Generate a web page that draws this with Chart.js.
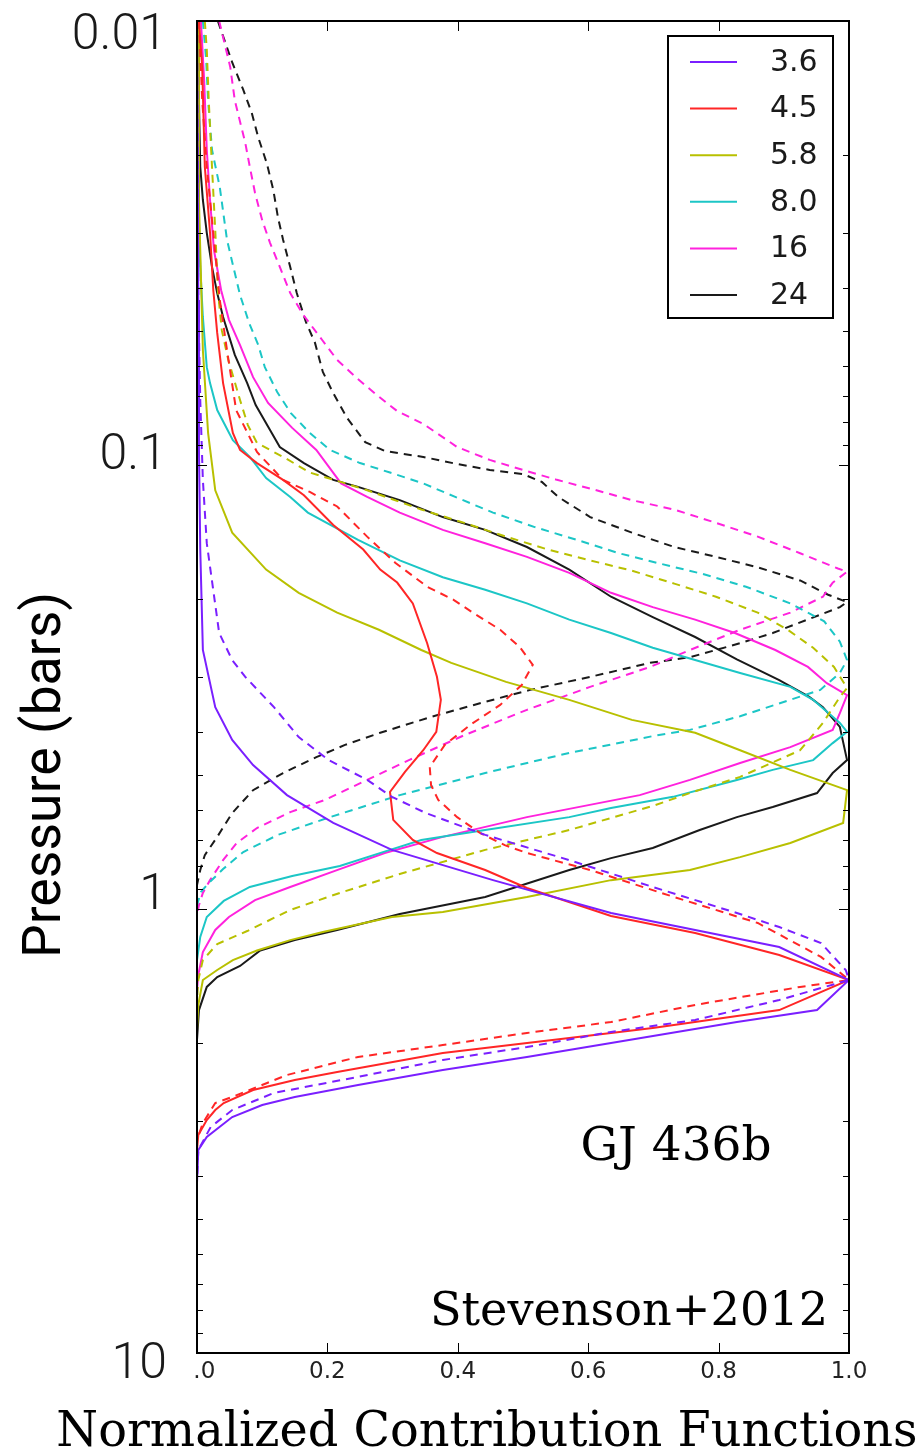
<!DOCTYPE html>
<html>
<head>
<meta charset="utf-8">
<script src="https://cdn.jsdelivr.net/npm/chart.js@4.4.1/dist/chart.umd.min.js"></script>
<style>
  html, body { margin: 0; padding: 0; background: #fff; }
</style>
</head>
<body>
<canvas id="cfChart" width="924" height="1455"></canvas>
<script>
// Contribution functions, pairs are [pressure (bar), normalized contribution]
const cf36 = [[0.01,0],[0.0425,0.002],[0.0925,0.003],[0.155,0.005],[0.261,0.009],[0.351,0.028],[0.416,0.054],[0.474,0.086],[0.554,0.138],[0.640,0.209],[0.736,0.299],[0.861,0.454],[1.021,0.635],[1.218,0.893],[1.445,1.0],[1.689,0.951],[1.797,0.828],[2.003,0.635],[2.154,0.506],[2.305,0.377],[2.491,0.247],[2.651,0.150],[2.763,0.100],[2.941,0.054],[3.262,0.015],[3.49,0.002],[4.14,0]];
const cf36d = [[0.01,0],[0.0425,0.002],[0.0714,0.005],[0.108,0.009],[0.150,0.015],[0.239,0.034],[0.275,0.054],[0.300,0.074],[0.351,0.118],[0.410,0.156],[0.462,0.202],[0.512,0.261],[0.559,0.299],[0.608,0.351],[0.681,0.442],[0.776,0.571],[0.892,0.699],[1.021,0.828],[1.098,0.893],[1.193,0.957],[1.372,0.995],[1.445,1.0],[1.603,0.893],[1.778,0.764],[1.892,0.635],[2.046,0.506],[2.188,0.377],[2.389,0.247],[2.596,0.118],[2.836,0.054],[3.097,0.021],[3.49,0.002],[4.08,0]];

const cf45 = [[0.01,0.003],[0.0127,0.008],[0.0213,0.012],[0.0300,0.020],[0.0404,0.025],[0.0504,0.031],[0.0654,0.040],[0.0847,0.055],[0.0925,0.066],[0.099,0.092],[0.108,0.132],[0.117,0.164],[0.1365,0.209],[0.155,0.255],[0.172,0.281],[0.184,0.307],[0.205,0.331],[0.252,0.353],[0.300,0.368],[0.338,0.374],[0.399,0.367],[0.439,0.347],[0.491,0.319],[0.545,0.296],[0.630,0.301],[0.699,0.331],[0.748,0.368],[0.817,0.442],[0.897,0.506],[1.037,0.635],[1.133,0.764],[1.269,0.893],[1.445,1.0],[1.689,0.893],[1.853,0.699],[1.952,0.571],[2.110,0.377],[2.328,0.215],[2.427,0.150],[2.557,0.086],[2.735,0.041],[2.836,0.028],[2.987,0.015],[3.228,0.002],[3.49,0]];
const cf45d = [[0.01,0.003],[0.0151,0.008],[0.0213,0.015],[0.0300,0.025],[0.0425,0.035],[0.0551,0.046],[0.0752,0.060],[0.0935,0.092],[0.108,0.132],[0.115,0.173],[0.124,0.215],[0.145,0.261],[0.166,0.304],[0.188,0.353],[0.201,0.393],[0.215,0.423],[0.235,0.465],[0.257,0.495],[0.282,0.515],[0.313,0.498],[0.347,0.465],[0.385,0.419],[0.427,0.380],[0.479,0.357],[0.526,0.359],[0.568,0.370],[0.621,0.399],[0.674,0.434],[0.718,0.472],[0.748,0.506],[0.817,0.603],[0.940,0.732],[1.075,0.860],[1.282,0.957],[1.445,1.0],[1.498,0.925],[1.645,0.764],[1.797,0.635],[1.902,0.506],[2.025,0.377],[2.154,0.247],[2.365,0.138],[2.651,0.054],[2.735,0.028],[3.034,0.009],[3.31,0]];

const cf58 = [[0.01,0.002],[0.0253,0.003],[0.0328,0.005],[0.0551,0.009],[0.0847,0.017],[0.114,0.028],[0.142,0.054],[0.172,0.106],[0.194,0.156],[0.215,0.215],[0.235,0.279],[0.261,0.344],[0.279,0.390],[0.308,0.474],[0.338,0.571],[0.375,0.667],[0.401,0.764],[0.439,0.833],[0.486,0.910],[0.540,0.997],[0.640,0.991],[0.710,0.910],[0.764,0.833],[0.817,0.756],[0.861,0.635],[0.940,0.506],[1.016,0.377],[1.042,0.299],[1.127,0.193],[1.175,0.143],[1.24,0.092],[1.303,0.055],[1.372,0.031],[1.445,0.009],[1.645,0.002],[1.873,0]];
const cf58d = [[0.01,0.012],[0.0116,0.015],[0.0151,0.018],[0.0213,0.023],[0.0296,0.028],[0.0404,0.032],[0.0497,0.038],[0.058,0.048],[0.0714,0.066],[0.0813,0.078],[0.0892,0.092],[0.0964,0.135],[0.104,0.173],[0.109,0.219],[0.114,0.261],[0.126,0.344],[0.135,0.410],[0.145,0.474],[0.155,0.538],[0.164,0.603],[0.173,0.667],[0.185,0.732],[0.198,0.796],[0.215,0.860],[0.235,0.906],[0.258,0.945],[0.285,0.977],[0.318,0.997],[0.333,0.986],[0.381,0.960],[0.439,0.925],[0.504,0.833],[0.548,0.756],[0.586,0.699],[0.664,0.571],[0.736,0.442],[0.834,0.311],[0.920,0.219],[1.005,0.143],[1.121,0.077],[1.199,0.031],[1.303,0.009],[1.445,0.002],[1.603,0]];

const cf80 = [[0.01,0],[0.0195,0.002],[0.0281,0.003],[0.0358,0.005],[0.0464,0.009],[0.0602,0.015],[0.0654,0.020],[0.0752,0.031],[0.0879,0.055],[0.0959,0.081],[0.107,0.106],[0.118,0.143],[0.128,0.170],[0.1475,0.247],[0.164,0.311],[0.179,0.377],[0.191,0.442],[0.205,0.506],[0.223,0.571],[0.239,0.635],[0.258,0.699],[0.275,0.764],[0.294,0.833],[0.316,0.910],[0.338,0.945],[0.381,0.986],[0.399,0.997],[0.423,0.975],[0.462,0.945],[0.486,0.883],[0.512,0.828],[0.559,0.730],[0.592,0.635],[0.621,0.571],[0.664,0.442],[0.699,0.344],[0.736,0.296],[0.800,0.219],[0.843,0.146],[0.892,0.081],[0.959,0.041],[1.042,0.015],[1.156,0.005],[1.303,0]];
const cf80d = [[0.01,0.009],[0.0122,0.014],[0.0151,0.017],[0.0195,0.023],[0.0237,0.035],[0.0311,0.046],[0.0354,0.055],[0.0414,0.066],[0.0479,0.080],[0.0537,0.094],[0.0602,0.104],[0.0685,0.123],[0.0764,0.144],[0.0847,0.173],[0.0925,0.204],[0.099,0.250],[0.104,0.296],[0.110,0.347],[0.118,0.396],[0.128,0.454],[0.138,0.518],[0.1475,0.583],[0.158,0.647],[0.167,0.712],[0.176,0.776],[0.188,0.842],[0.205,0.910],[0.225,0.962],[0.250,0.986],[0.275,0.997],[0.294,0.986],[0.321,0.956],[0.338,0.910],[0.368,0.833],[0.395,0.756],[0.408,0.699],[0.445,0.571],[0.494,0.442],[0.554,0.311],[0.621,0.204],[0.681,0.124],[0.744,0.071],[0.813,0.040],[0.874,0.018],[0.916,0.006],[0.980,0]];

const cf16 = [[0.01,0.006],[0.0136,0.011],[0.0195,0.015],[0.0253,0.020],[0.0328,0.026],[0.0404,0.037],[0.0471,0.049],[0.0537,0.066],[0.0634,0.086],[0.0725,0.109],[0.0825,0.146],[0.0925,0.183],[0.110,0.221],[0.118,0.261],[0.128,0.311],[0.140,0.377],[0.150,0.442],[0.161,0.506],[0.175,0.571],[0.194,0.635],[0.209,0.699],[0.223,0.764],[0.239,0.825],[0.261,0.887],[0.285,0.937],[0.310,0.966],[0.330,0.997],[0.362,0.986],[0.395,0.975],[0.432,0.910],[0.469,0.833],[0.512,0.756],[0.554,0.679],[0.621,0.506],[0.688,0.377],[0.748,0.288],[0.813,0.219],[0.892,0.143],[0.955,0.089],[1.042,0.049],[1.115,0.028],[1.250,0.009],[1.408,0.002],[1.522,0]];
const cf16d = [[0.01,0.034],[0.0127,0.051],[0.0151,0.058],[0.0188,0.074],[0.0213,0.081],[0.0244,0.089],[0.0281,0.100],[0.0316,0.112],[0.0358,0.127],[0.0410,0.143],[0.0459,0.163],[0.0523,0.192],[0.058,0.215],[0.0637,0.245],[0.0696,0.276],[0.0756,0.307],[0.0808,0.347],[0.0911,0.399],[0.0974,0.449],[0.1026,0.500],[0.108,0.552],[0.113,0.603],[0.120,0.667],[0.126,0.732],[0.135,0.796],[0.145,0.860],[0.158,0.925],[0.171,0.983],[0.174,0.997],[0.184,0.975],[0.198,0.960],[0.215,0.910],[0.235,0.833],[0.261,0.756],[0.285,0.695],[0.316,0.603],[0.356,0.506],[0.406,0.410],[0.462,0.325],[0.512,0.261],[0.568,0.196],[0.605,0.143],[0.657,0.092],[0.710,0.061],[0.776,0.040],[0.861,0.020],[0.920,0.009],[0.980,0.003],[1.032,0]];

const cf24 = [[0.01,0.002],[0.0151,0.003],[0.0213,0.005],[0.0253,0.009],[0.0300,0.015],[0.0358,0.023],[0.0410,0.031],[0.0464,0.040],[0.0565,0.058],[0.0654,0.077],[0.0733,0.090],[0.0834,0.112],[0.0911,0.127],[0.099,0.164],[0.108,0.209],[0.112,0.247],[0.120,0.311],[0.131,0.377],[0.140,0.442],[0.153,0.506],[0.172,0.571],[0.198,0.635],[0.220,0.699],[0.244,0.764],[0.274,0.828],[0.305,0.893],[0.333,0.939],[0.351,0.960],[0.389,0.986],[0.462,0.997],[0.494,0.975],[0.548,0.951],[0.589,0.883],[0.621,0.828],[0.664,0.771],[0.729,0.699],[0.768,0.635],[0.817,0.571],[0.940,0.442],[1.026,0.311],[1.115,0.215],[1.175,0.150],[1.24,0.097],[1.344,0.066],[1.423,0.031],[1.498,0.015],[1.689,0.003],[1.972,0]];
const cf24d = [[0.01,0.032],[0.0124,0.054],[0.0143,0.071],[0.0161,0.084],[0.0183,0.094],[0.0209,0.107],[0.0240,0.117],[0.0276,0.124],[0.0311,0.132],[0.0358,0.143],[0.0410,0.153],[0.0476,0.167],[0.0531,0.181],[0.0617,0.193],[0.0689,0.209],[0.0783,0.230],[0.0888,0.258],[0.0930,0.288],[0.0959,0.347],[0.0995,0.399],[0.1026,0.449],[0.1048,0.500],[0.1092,0.529],[0.118,0.554],[0.131,0.603],[0.142,0.667],[0.153,0.732],[0.161,0.796],[0.170,0.860],[0.182,0.925],[0.196,0.968],[0.2035,0.997],[0.209,0.986],[0.223,0.936],[0.239,0.883],[0.252,0.833],[0.271,0.756],[0.279,0.695],[0.300,0.603],[0.321,0.511],[0.344,0.434],[0.370,0.357],[0.401,0.281],[0.427,0.227],[0.455,0.183],[0.494,0.132],[0.540,0.086],[0.608,0.054],[0.688,0.031],[0.756,0.012],[0.817,0.005],[0.883,0]];

const bands = ['3.6', '4.5', '5.8', '8.0', '16', '24'];
const bandColors = ['#7a1fff', '#ff2626', '#b8c000', '#1cc6c6', '#ff22dd', '#1a1a1a'];
const solidCurves = [cf36, cf45, cf58, cf80, cf16, cf24];
const dashedCurves = [cf36d, cf45d, cf58d, cf80d, cf16d, cf24d];

const xTicks = [0, 0.2, 0.4, 0.6, 0.8, 1.0];
const yTicks = [0.01, 0.1, 1, 10];
const yTickLabels = ['0.01', '0.1', '1', '10'];
// the big pressure labels sit a little off their ticks in the figure:
// +1 pushes the text below the tick, -1 above, by half a line
const yLabelSide = [1, -1, -1, 1];
const yLabelLine = [0.6, 0.36, 0.52, 0.48];

const toPoints = arr => arr.map(([p, c]) => ({ x: c, y: p }));

const datasets = [];
bands.forEach((b, i) => {
    datasets.push({
        label: b,
        data: toPoints(solidCurves[i]),
        borderColor: bandColors[i],
        borderWidth: 2,
        showLine: true,
        pointRadius: 0,
        tension: 0
    });
    datasets.push({
        label: b + ' dashed',
        data: toPoints(dashedCurves[i]),
        borderColor: bandColors[i],
        borderWidth: 2,
        borderDash: [8, 6],
        showLine: true,
        pointRadius: 0,
        tension: 0
    });
});

// box around the plot plus inward tick marks
const frame = {
    id: 'frame',
    afterDatasetsDraw(chart) {
        const { ctx, chartArea: a, scales: { x, y } } = chart;
        ctx.save();
        ctx.strokeStyle = '#000';
        ctx.lineWidth = 1;
        ctx.beginPath();
        xTicks.forEach(v => {
            const px = Math.round(x.getPixelForValue(v)) + 0.5;
            ctx.moveTo(px, a.bottom); ctx.lineTo(px, a.bottom - 10);
            ctx.moveTo(px, a.top); ctx.lineTo(px, a.top + 10);
        });
        [0.01, 0.1, 1].forEach(dec => {
            for (let m = 1; m <= 9; m++) {
                const py = Math.round(y.getPixelForValue(dec * m)) + 0.5;
                const len = m === 1 ? 10 : 6;
                ctx.moveTo(a.left, py); ctx.lineTo(a.left + len, py);
                ctx.moveTo(a.right, py); ctx.lineTo(a.right - len, py);
            }
        });
        ctx.stroke();
        ctx.lineWidth = 2;
        ctx.strokeRect(a.left, a.top, a.right - a.left, a.bottom - a.top);
        ctx.restore();
    }
};

// legend box inside the plot, solid lines only
const keyBox = {
    id: 'keyBox',
    afterDraw(chart) {
        const { ctx, chartArea: a } = chart;
        const left = a.right - 181, top = a.top + 15, w = 165, h = 282;
        ctx.save();
        ctx.fillStyle = '#fff';
        ctx.fillRect(left, top, w, h);
        ctx.strokeStyle = '#000';
        ctx.lineWidth = 2;
        ctx.strokeRect(left, top, w, h);
        ctx.font = '30px "DejaVu Sans"';
        ctx.textAlign = 'left';
        ctx.textBaseline = 'middle';
        bands.forEach((b, i) => {
            const yy = top + 26 + i * 46.6;
            ctx.strokeStyle = bandColors[i];
            ctx.lineWidth = 2;
            ctx.beginPath();
            ctx.moveTo(left + 22, yy);
            ctx.lineTo(left + 69, yy);
            ctx.stroke();
            ctx.fillStyle = '#1a1a1a';
            ctx.fillText(b, left + 102, yy + 1);
        });
        ctx.restore();
    }
};

// axis titles and annotations, scaled to the widths seen in the figure
function fitText(ctx, text, cx, cy, width, family) {
    ctx.font = '48px ' + family;
    const size = 48 * width / ctx.measureText(text).width;
    ctx.font = size.toFixed(1) + 'px ' + family;
    ctx.fillText(text, cx, cy);
}

const notes = {
    id: 'notes',
    afterDraw(chart) {
        const { ctx } = chart;
        ctx.save();
        ctx.fillStyle = '#000';
        ctx.textAlign = 'center';
        ctx.textBaseline = 'alphabetic';
        fitText(ctx, 'GJ 436b', 676, 1160, 191, '"DejaVu Serif"');
        fitText(ctx, 'Stevenson+2012', 629, 1325, 398, '"DejaVu Serif"');
        fitText(ctx, 'Normalized Contribution Functions', 487, 1446, 862, '"DejaVu Serif"');
        ctx.translate(47, 775);
        ctx.rotate(-Math.PI / 2);
        ctx.textBaseline = 'middle';
        fitText(ctx, 'Pressure (bars)', 0, 0, 366, 'Roboto');
        ctx.restore();
    }
};

new Chart(document.getElementById('cfChart').getContext('2d'), {
    type: 'scatter',
    data: { datasets },
    options: {
        responsive: false,
        devicePixelRatio: 1,
        animation: false,
        layout: { padding: { top: 21, right: 75, bottom: 0, left: 0 } },
        plugins: {
            legend: { display: false },
            tooltip: { enabled: false }
        },
        scales: {
            x: {
                type: 'linear',
                min: 0,
                max: 1,
                grid: { display: false, drawTicks: false },
                border: { display: false },
                afterBuildTicks: s => { s.ticks = xTicks.map(v => ({ value: v })); },
                afterFit: s => { s.height = 102; s.paddingLeft = 0; s.paddingRight = 0; },
                ticks: {
                    padding: 5,
                    color: '#222',
                    font: { family: 'DejaVu Sans', size: 23 },
                    maxRotation: 0,
                    autoSkip: false,
                    callback: v => (v === 0 ? '\u2007.0' : v.toFixed(1))
                }
            },
            y: {
                type: 'logarithmic',
                reverse: true,
                min: 0.01,
                max: 10,
                grid: { display: false, drawTicks: false },
                border: { display: false },
                afterBuildTicks: s => { s.ticks = yTicks.map(v => ({ value: v })); },
                afterFit: s => { s.width = 197; s.paddingTop = 0; s.paddingBottom = 0; },
                ticks: {
                    padding: 30,
                    color: '#1a1a1a',
                    autoSkip: false,
                    font: c => ({
                        family: 'Roboto',
                        size: 50,
                        weight: '300',
                        lineHeight: yLabelLine[c.index] ?? 1.2
                    }),
                    callback: v => {
                        const i = yTicks.indexOf(v);
                        if (i < 0) return '';
                        return yLabelSide[i] > 0 ? ['', yTickLabels[i]] : [yTickLabels[i], ''];
                    }
                }
            }
        }
    },
    plugins: [frame, keyBox, notes]
});
</script>
</body>
</html>
